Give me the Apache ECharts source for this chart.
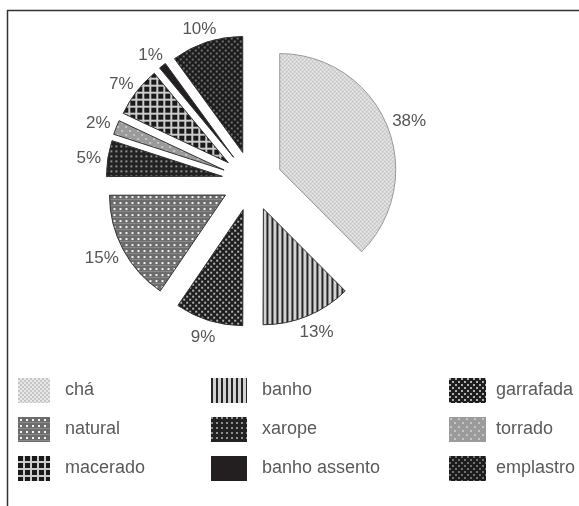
<!DOCTYPE html>
<html>
<head>
<meta charset="utf-8">
<script src="https://cdn.jsdelivr.net/npm/echarts@6/dist/echarts.min.js"></script>
<style>html,body{margin:0;padding:0;background:#fff;}#c{width:579px;height:506px;}</style>
</head>
<body>
<div id="c"></div>
<script>
var categories = ['chá', 'banho', 'garrafada', 'natural', 'xarope', 'torrado', 'macerado', 'banho assento', 'emplastro'];
// slice sizes (percent); labels show the rounded values
var values = [37.5, 12.5, 9.45, 15.45, 5, 2, 7, 1, 10];
var legendCol1 = ['chá', 'natural', 'macerado'];
var legendCol2 = ['banho', 'xarope', 'banho assento'];
var legendCol3 = ['garrafada', 'torrado', 'emplastro'];

function pat(w, h, bg, draw) {
  var cv = document.createElement('canvas');
  cv.width = w; cv.height = h;
  var ctx = cv.getContext('2d');
  ctx.fillStyle = bg; ctx.fillRect(0, 0, w, h);
  draw(ctx);
  return { image: cv, repeat: 'repeat' };
}
var patterns = {
  'chá': pat(4, 4, '#e8e8e8', function (c) { c.fillStyle = '#c6c6c6'; c.fillRect(0, 0, 2, 2); c.fillRect(2, 2, 2, 2); }),
  'banho': pat(5, 5, '#d2d2d2', function (c) { c.fillStyle = '#262626'; c.fillRect(0, 0, 2, 5); }),
  'garrafada': pat(6, 6, '#1e1e1e', function (c) { c.fillStyle = '#b0b0b0'; c.fillRect(0, 0, 2, 2); c.fillRect(3, 3, 2, 2); }),
  'natural': pat(6, 6, '#6c6c6c', function (c) { c.fillStyle = '#f4f4f4'; c.fillRect(2, 2, 2, 2); c.fillStyle = '#8a8a8a'; c.fillRect(0, 5, 6, 1); }),
  'xarope': pat(5, 5, '#222222', function (c) { c.fillStyle = '#909090'; c.fillRect(0, 0, 2, 2); }),
  'torrado': pat(8, 8, '#9b9b9b', function (c) { c.fillStyle = '#c4c4c4'; c.fillRect(1, 1, 2, 2); c.fillRect(5, 5, 2, 2); }),
  'macerado': pat(7, 7, '#cccccc', function (c) { c.fillStyle = '#1a1a1a'; c.fillRect(0, 0, 5, 5); }),
  'banho assento': '#231f20',
  'emplastro': pat(6, 6, '#1c1c1c', function (c) { c.fillStyle = '#707070'; c.fillRect(0, 0, 2, 2); c.fillRect(3, 3, 2, 2); })
};

var data = categories.map(function (n, i) {
  return {
    name: n, value: values[i], selected: true,
    itemStyle: { color: patterns[n], borderColor: n === 'chá' ? '#9a9a9a' : '#333', borderWidth: 1 }
  };
});

function legendCol(names, left, iw, gap) {
  return {
    data: names, orient: 'vertical', left: left, top: 378, padding: 0,
    itemWidth: iw, itemHeight: 25, itemGap: 14, icon: 'rect',
    selectedMode: false,
    itemStyle: { borderWidth: 0 },
    textStyle: { fontSize: 18, color: '#5a5a5a', fontFamily: 'Liberation Sans, Arial, sans-serif', padding: [0, 0, 0, gap] }
  };
}

var chart = echarts.init(document.getElementById('c'), null, { renderer: 'canvas' });
chart.setOption({
  animation: false,
  backgroundColor: '#fff',
  graphic: [
    { type: 'line', shape: { x1: 7, y1: 10.5, x2: 579, y2: 10.5 }, style: { stroke: '#333', lineWidth: 1.5 } },
    { type: 'line', shape: { x1: 7.5, y1: 10, x2: 7.5, y2: 506 }, style: { stroke: '#333', lineWidth: 1.5 } }
  ],
  legend: [legendCol(legendCol1, 18, 32, 10), legendCol(legendCol2, 211, 36, 10), legendCol(legendCol3, 449, 37, 5)],
  series: [{
    type: 'pie',
    center: [252, 181],
    radius: 116,
    startAngle: 90,
    clockwise: true,
    selectedMode: 'multiple',
    selectedOffset: 30,
    emphasis: { disabled: true },
    data: data,
    label: {
      show: true, position: 'outside',
      formatter: function (p) { return Math.round(p.value) + '%'; },
      fontSize: 17, color: '#555', fontFamily: 'Liberation Sans, Arial, sans-serif',
      distanceToLabelLine: 0
    },
    labelLine: { show: true, length: 7, length2: 0, lineStyle: { width: 0, opacity: 0 } },
    labelLayout: function (p) {
      var pts = p.labelLinePoints;
      if (!pts || pts.length < 2) return {};
      var dx = pts[1][0] - pts[0][0], dy = pts[1][1] - pts[0][1];
      var l = Math.sqrt(dx * dx + dy * dy) || 1;
      dx /= l; dy /= l;
      var w = p.labelRect.width, h = p.labelRect.height;
      var sign = dx < 0 ? -1 : 1;
      return { dx: dx * w / 2 - sign * w / 2, dy: dy * h / 2 + 2 };
    }
  }]
});
</script>
</body>
</html>
